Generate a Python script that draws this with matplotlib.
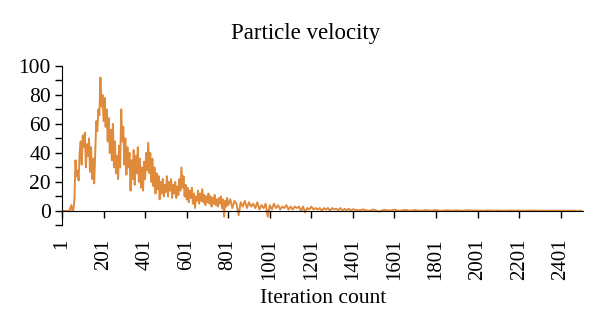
import numpy as np
import matplotlib.pyplot as plt
from matplotlib.ticker import MultipleLocator

plt.rcParams['font.family'] = ['Liberation Serif', 'DejaVu Serif']

# velocity sampled every 5 iterations (1..796)
vel_early = [
    0, 0, 0, 0, 0, 0, 0, 0, 2, 4,
    0, 1, 8, 35, 24, 28, 21, 40, 48, 32,
    52, 44, 54, 30, 46, 38, 50, 27, 44, 22,
    36, 19, 40, 62, 55, 70, 66, 92, 72, 80,
    62, 78, 58, 70, 48, 64, 40, 56, 35, 60,
    30, 48, 26, 38, 22, 45, 30, 70, 48, 58,
    32, 50, 25, 44, 30, 40, 14, 35, 22, 42,
    18, 38, 26, 44, 20, 36, 16, 30, 14, 34,
    22, 40, 28, 47, 26, 40, 20, 36, 17, 30,
    12, 26, 15, 24, 8, 20, 12, 22, 10, 18,
    13, 24, 10, 20, 14, 22, 9, 18, 12, 20,
    9, 17, 11, 22, 14, 30, 16, 24, 10, 18,
    8, 16, 6, 14, 9, 16, 5, 12, 2, 10,
    7, 14, 5, 12, 7, 15, 6, 11, 4, 10,
    6, 12, 5, 10, 3, 9, 5, 11, 4, 8,
    3, 9, 5, 10, 2, 8, -4, 7, 3, 9,
]
# every 10 iterations (801..1391)
vel_mid = [
    4, 8, 2, 7, 5, -3, 6, 3, 7, 2,
    6, 3, 5, 2, 6, 1, 4, 2, 5, -4,
    4, 1, 5, 2, 4, 1, 3, 2, 4, 1,
    3, 1, 3, 2, 3, 0, 3, -1, 2, 1,
    3, 1, 2, 1, 2, 0, 2, 1, 2, 0,
    2, 1, 1.5, 0.5, 2, 0, 1.5, 0.5, 1.5, 0,
]
# every 25 iterations (1401..2476)
vel_late = [
    1.2, 0.3, 1, 0, 1, -0.5, 0.8, 0.2, 0.9, 0.1,
    0.7, 0.2, 0.6, 0.1, 0.5, 0.2, 0.6, 0, 0.5, 0.2,
    0.4, 0.1, 0.5, 0.2, 0.3, 0.1, 0.4, 0.2, 0.3, 0.1,
    0.3, 0.2, 0.3, 0.1, 0.3, 0.2, 0.2, 0.1, 0.2, 0.2,
    0.2, 0.1, 0.2, 0.1,
]

it = np.concatenate([np.arange(1, 800, 5), np.arange(801, 1400, 10),
                     np.arange(1401, 2500, 25), [2500]])
vel = np.array(vel_early + vel_mid + vel_late + [0.1])

xticks = np.arange(1, 2402, 200)

fig = plt.figure(figsize=(6, 3.34), dpi=100)
ax = fig.add_axes([0.1033, 0.325, 0.869, 0.4776])
ax.plot(it, vel, color='#E08A3C', lw=1.4)

ax.set_xlim(1, 2510)
ax.set_ylim(-10, 100)
ax.spines['top'].set_visible(False)
ax.spines['right'].set_visible(False)
ax.spines['bottom'].set_position(('data', 0))
ax.set_xticks(xticks)
ax.set_xticklabels([str(t) for t in xticks], rotation=90)
ax.yaxis.set_major_locator(MultipleLocator(20))
ax.yaxis.set_minor_locator(MultipleLocator(10))
ax.set_yticks(np.arange(0, 101, 20))
ax.tick_params(axis='x', length=5, width=1, pad=15, labelsize=15)
ax.tick_params(axis='y', which='both', length=5, width=1, pad=3, labelsize=15.5)

fig.text(0.51, 0.9, 'Particle velocity', ha='center', va='center', fontsize=16.5)
fig.text(0.538, 0.105, 'Iteration count', ha='center', va='center', fontsize=15.5)

fig.savefig('out.png', dpi=100)
